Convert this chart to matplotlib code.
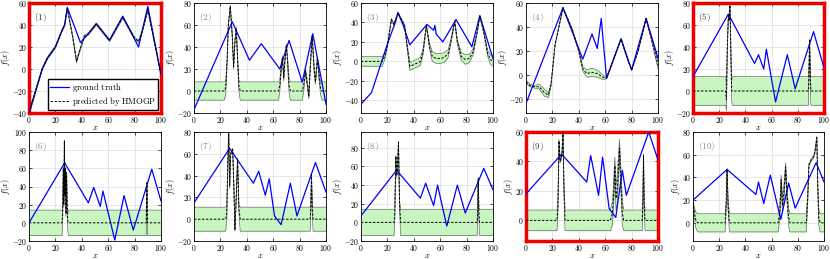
import matplotlib
matplotlib.use("Agg")
from matplotlib import pyplot as plt
from matplotlib.ticker import FuncFormatter, MultipleLocator
import numpy as np

plt.rcParams["mathtext.fontset"] = "cm"
plt.rcParams["font.family"] = ["DejaVu Serif"]

# ground truth knots (x, f(x)) and HMOGP prediction (x, mean, half-width of band)
gt1_x = [0, 10, 14, 20, 25, 27, 29, 39, 42, 45, 51, 61, 71, 83, 90, 100]
gt1_y = [-40, 0, 10, 20, 35, 40, 56, 24, 28, 32, 41, 26, 48, 20, 57, -5]
pr1_x = [0, 10, 14, 20, 25, 27, 29, 33, 36, 38, 42, 45, 51, 61, 71, 80, 83, 86, 90, 100]
pr1_mu = [-40, 0, 10, 20, 35, 40, 55, 30, 7, 15, 30, 32, 41, 26, 47, 28, 25, 35, 54, -5]
pr1_sd = [2, 1, 1, 1, 1, 1, 1, 1, 1.5, 1, 1, 1, 1, 1, 1, 1, 1, 1, 1, 1]

gt2_x = [0, 29, 42, 51, 65, 72, 82, 90, 100]
gt2_y = [-17, 63, 28, 43, 20, 46, 8, 52, -12]
pr2_x = [0, 23, 24, 25, 26, 27.5, 29, 30, 31, 32, 33, 34, 35,
         64, 65, 66, 67, 68, 69, 70, 71, 72, 73,
         82, 83, 84.5, 86, 87, 88, 89.5, 91, 92, 93.5, 95, 96, 97, 100]
pr2_mu = [0, 0, 3, 25, 60, 77, 50, 22, 45, 57, 30, 5, 0,
          0, 5, 20, 30, 12, 30, 42, 25, 5, 0,
          0, 5, 18, 5, -5, 20, 50, 20, 8, 30, 10, 2, 0, 0]
pr2_sd = [8.3, 8.3, 6, 2, 1, 1, 2, 2, 1, 1, 2, 5, 8.3,
          8.3, 5, 3, 2, 3, 2, 1, 3, 6, 8.3,
          8.3, 6, 2, 3, 2, 2, 1, 3, 2, 1, 3, 6, 8.3, 8.3]

gt3_x = [0, 8, 20, 26, 28, 32, 37, 50, 55, 56, 57, 62, 72, 84, 90, 100]
gt3_y = [-44, -32, 18, 40, 50, 37, 17, 38, 32, 37, 28, 20, 43, 15, 47, 3]
pr3_x = [0, 16, 18, 20, 23, 25, 28, 33, 35, 37, 39, 42, 45, 47, 49.5, 52, 54, 57,
         60, 63, 66, 68, 71, 73, 76, 79, 82, 85, 88, 90, 93, 96, 98, 100]
pr3_mu = [0, 0, 5, 16, 43, 38, 50, 37, 15, -5, -4, -2, 0, 10, 37, 15, 5, 3,
          3, 4, 8, 20, 41, 20, 5, 2, 3, 10, 30, 47, 30, 8, 2, 0]
pr3_sd = [5, 5, 3, 1, 1, 1, 0.5, 1, 2, 4, 4, 4, 4, 3, 1, 3, 5, 5,
          5, 5, 4, 2, 1, 2, 4, 5, 4, 3, 1, 0.5, 1, 3, 5, 5]

gt4_x = [0, 28, 43, 50, 54, 57, 61, 72, 80, 91, 100]
gt4_y = [-24, 56, 13, 34, 22, 47, -3, 30, 4, 47, 14]
pr4_x = [0, 3, 6, 10, 14, 17, 19, 22, 28, 35, 40, 43, 46, 50, 54, 58, 61,
         66, 72, 76, 80, 85, 91, 95, 100]
pr4_mu = [-6, -9, -10, -10, -15, -17, -8, 25, 56, 38, 20, 5, 1, 2, 1, -2, -3,
          12, 30, 16, 4, 20, 47, 30, 8]
pr4_sd = [1.5, 1, 1, 2, 3, 2, 1, 0.5, 0.5, 0.5, 1, 2, 3, 3.5, 3, 2, 0.5,
          0.5, 0.5, 0.5, 0.5, 0.5, 0.5, 1, 3]

gt5_x = [0, 27, 47, 50, 54, 56, 63, 72, 78, 92, 100]
gt5_y = [13, 70, 25, 33, 20, 38, -10, 33, 2, 54, 21]
pr5_x = [0, 25, 25.5, 26.2, 27, 27.5, 28.2, 29, 29.5, 30, 88, 88.4, 89, 89.6, 90, 100]
pr5_mu = [0, 0, -8, 40, 68, 65, 78, 30, 0, 0, 0, 10, 46, 10, 0, 0]
pr5_sd = [13, 13, 10, 1, 1, 1, 1, 3, 8, 13, 13, 6, 1, 6, 13, 13]

gt6_x = [0, 27, 45, 49, 54, 56, 65, 72, 79, 93, 100]
gt6_y = [0, 66, 22, 39, 18, 35, -19, 30, -8, 59, 24]
pr6_x = [0, 25, 25.5, 26, 26.4, 26.8, 27.2, 27.6, 28, 28.5, 29, 29.5, 30,
         88.8, 89.3, 89.8, 100]
pr6_mu = [0, 0, 10, 60, 20, 90, 30, 60, 10, 55, 10, 0, 0, 0, 44, 0, 0]
pr6_sd = [14, 14, 6, 1, 2, 1, 2, 1, 3, 1, 4, 10, 14, 14, 1, 14, 14]

gt7_x = [0, 27, 45, 49, 54, 57, 61, 66, 73, 78, 92, 100]
gt7_y = [15, 65, 33, 44, 22, 37, 3, -5, 33, 3, 52, 25]
pr7_x = [0, 24, 24.8, 25.6, 26.3, 27, 27.8, 29.3, 30.2, 31, 32, 33, 34, 35,
         88, 88.5, 89, 89.6, 90.2, 100]
pr7_mu = [0, 0, 5, 50, 79, 30, 60, 64, 30, -10, 20, 55, 10, 0, 0, 10, 41, 10, 0, 0]
pr7_sd = [11, 11, 6, 1, 1, 2, 1, 1, 2, 1, 2, 1, 4, 11, 11, 4, 1, 4, 11, 11]

gt8_x = [0, 27, 45, 49, 55, 58, 65, 73, 79, 93, 100]
gt8_y = [7, 56, 26, 42, 18, 40, -4, 40, 10, 58, 35]
pr8_x = [0, 25, 25.6, 26.4, 27, 27.6, 28.4, 29.2, 30, 88, 88.4, 88.8, 89.3, 89.8, 100]
pr8_mu = [0, 0, 10, 71, 50, 56, 86, 20, 0, 0, 10, 47, 10, 0, 0]
pr8_sd = [14, 14, 6, 1, 2, 1, 1, 3, 14, 14, 6, 1, 6, 14, 14]

gt9_x = [0, 27, 46, 49, 55, 58, 63, 68, 73, 76, 93, 100]
gt9_y = [18, 45, 26, 44, 17, 43, 8, 2, 34, 17, 60, 41]
pr9_x = [0, 23.5, 24.2, 25, 25.8, 26.5, 27.2, 28, 28.8, 29.6,
         64, 65.5, 66.5, 67.3, 68.2, 69, 70, 70.8, 72, 73, 74,
         88, 88.5, 89, 89.6, 90.2, 100]
pr9_mu = [0, 0, 10, 54, 40, 42, 45, 60, 20, 0,
          0, 5, 20, 37, 15, 20, 35, 49, 25, 5, 0,
          0, 10, 44, 10, 0, 0]
pr9_sd = [7, 7, 4, 1, 1, 1, 1, 1, 3, 7,
          7, 8, 8, 6, 9, 9, 8, 6, 8, 8, 7,
          7, 4, 1, 4, 7, 7]

gt10_x = [0, 26, 48, 50, 54, 59, 67, 73, 78, 94, 100]
gt10_y = [20, 47, 25, 36, 17, 42, 3, 35, 13, 53, 36]
pr10_x = [0, 1, 2, 3.5, 24.5, 25.3, 26, 26.8, 27.8,
          65, 66.3, 67.3, 68.3, 69.3, 70.7, 72, 73, 74,
          86.5, 87.5, 88.5, 90, 92, 93, 94.5, 95.3, 96, 97, 100]
pr10_mu = [18, 10, 3, 0, 0, 15, 47, 15, 0,
           0, 10, 38, 15, 25, 49, 20, 5, 0,
           0, 20, 51, 55, 58, 62, 75, 30, 5, 0, 0]
pr10_sd = [0.5, 4, 7, 8, 8, 4, 1, 4, 8,
           8, 6, 4, 7, 7, 4, 7, 8, 8,
           8, 4, 1, 1, 1, 1, 1, 4, 7, 8, 8]

truths = [(gt1_x, gt1_y), (gt2_x, gt2_y), (gt3_x, gt3_y), (gt4_x, gt4_y), (gt5_x, gt5_y),
          (gt6_x, gt6_y), (gt7_x, gt7_y), (gt8_x, gt8_y), (gt9_x, gt9_y), (gt10_x, gt10_y)]
preds = [(pr1_x, pr1_mu, pr1_sd), (pr2_x, pr2_mu, pr2_sd), (pr3_x, pr3_mu, pr3_sd),
         (pr4_x, pr4_mu, pr4_sd), (pr5_x, pr5_mu, pr5_sd), (pr6_x, pr6_mu, pr6_sd),
         (pr7_x, pr7_mu, pr7_sd), (pr8_x, pr8_mu, pr8_sd), (pr9_x, pr9_mu, pr9_sd),
         (pr10_x, pr10_mu, pr10_sd)]
y_limits = [(-40, 60), (-20, 80), (-53, 60), (-32, 60), (-20, 80),
            (-20, 100), (-20, 80), (-20, 97), (-14, 60), (-16, 80)]
highlighted = [1, 5, 9]

# axes placement in pixels (left, top) of each panel
lefts = [29, 194, 361, 526, 693]
tops = [3, 132]
W, H = 830, 259

fig = plt.figure(figsize=(W / 100, H / 100), dpi=100)
tick_fmt = FuncFormatter(lambda v, p: r"$%d$" % v if v >= 0 else r"$-%d$" % -v)

for i in range(10):
    row, col = divmod(i, 5)
    n = i + 1
    ax_h = 110 if row == 0 else 109
    ax_w = 131 if col == 4 else 132
    ax = fig.add_axes([lefts[col] / W, 1 - (tops[row] + ax_h) / H, ax_w / W, ax_h / H])

    px, mu, sd = [np.array(a, dtype=float) for a in preds[i]]
    ax.fill_between(px, mu - sd, mu + sd, color="#c8f5c0", lw=0, zorder=1)
    ax.plot(px, mu - sd, color="#5c6e5c", lw=0.5, zorder=2)
    ax.plot(px, mu + sd, color="#5c6e5c", lw=0.5, zorder=2)
    gx, gy = truths[i]
    ax.plot(gx, gy, color="#0000ff", lw=0.9, zorder=3, label=r"$\mathrm{ground\ truth}$")
    ax.plot(px, mu, color="black", lw=0.7, ls=(0, (2.5, 1.6)), zorder=4,
            label=r"$\mathrm{predicted\ by\ HMOGP}$")

    ax.set_xlim(0, 100)
    ax.set_ylim(*y_limits[i])
    ax.xaxis.set_major_locator(MultipleLocator(20))
    ax.yaxis.set_major_locator(MultipleLocator(20))
    ax.xaxis.set_major_formatter(tick_fmt)
    ax.yaxis.set_major_formatter(tick_fmt)
    ax.tick_params(direction="in", top=True, right=True, length=2, width=0.5,
                   labelsize=5.5, pad=1.5)
    ax.grid(True, color="#dddddd", lw=0.5, zorder=0)
    ax.set_axisbelow(True)
    ax.set_xlabel(r"$x$", fontsize=6, labelpad=-0.5)
    ax.set_ylabel(r"$f(x)$", fontsize=6, labelpad=0)

    if n in highlighted:
        for s in ax.spines.values():
            s.set_color("#ee0000")
            s.set_linewidth(2.5)
        lab_color = "#333333"
    else:
        for s in ax.spines.values():
            s.set_linewidth(0.6)
        lab_color = "#888888"
    ax.text(0.04, 0.93, r"$\mathrm{(%d)}$" % n, transform=ax.transAxes,
            fontsize=6.5, color=lab_color, va="top", ha="left")

    if n == 1:
        ax.legend(loc="lower right", fontsize=6.2, frameon=True, fancybox=False,
                  edgecolor="black", framealpha=1, borderpad=0.2, handlelength=2.2,
                  handletextpad=0.3, labelspacing=0.1, borderaxespad=0.4)

fig.savefig("out.png", dpi=100)
